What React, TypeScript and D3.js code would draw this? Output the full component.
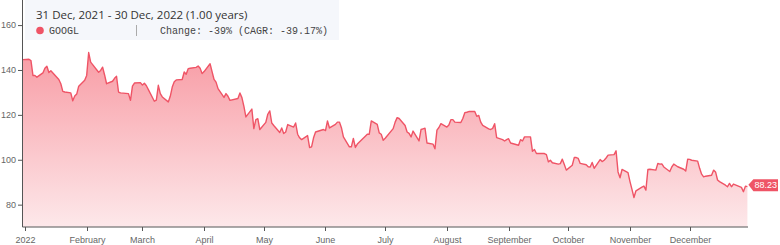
import React from "react";
import * as d3 from "d3";

const dates: string[] = [
  "2021-12-31",
  "2022-01-03","2022-01-04","2022-01-05","2022-01-06","2022-01-07","2022-01-10","2022-01-11","2022-01-12","2022-01-13","2022-01-14",
  "2022-01-18","2022-01-19","2022-01-20","2022-01-21","2022-01-24","2022-01-25","2022-01-26","2022-01-27","2022-01-28","2022-01-31",
  "2022-02-01","2022-02-02","2022-02-03","2022-02-04","2022-02-07","2022-02-08","2022-02-09","2022-02-10","2022-02-11","2022-02-14",
  "2022-02-15","2022-02-16","2022-02-17","2022-02-18","2022-02-22","2022-02-23","2022-02-24","2022-02-25","2022-02-28",
  "2022-03-01","2022-03-02","2022-03-03","2022-03-04","2022-03-07","2022-03-08","2022-03-09","2022-03-10","2022-03-11","2022-03-14",
  "2022-03-15","2022-03-16","2022-03-17","2022-03-18","2022-03-21","2022-03-22","2022-03-23","2022-03-24","2022-03-25","2022-03-28",
  "2022-03-29","2022-03-30","2022-03-31",
  "2022-04-01","2022-04-04","2022-04-05","2022-04-06","2022-04-07","2022-04-08","2022-04-11","2022-04-12","2022-04-13","2022-04-14",
  "2022-04-18","2022-04-19","2022-04-20","2022-04-21","2022-04-22","2022-04-25","2022-04-26","2022-04-27","2022-04-28","2022-04-29",
  "2022-05-02","2022-05-03","2022-05-04","2022-05-05","2022-05-06","2022-05-09","2022-05-10","2022-05-11","2022-05-12","2022-05-13",
  "2022-05-16","2022-05-17","2022-05-18","2022-05-19","2022-05-20","2022-05-23","2022-05-24","2022-05-25","2022-05-26","2022-05-27",
  "2022-05-31",
  "2022-06-01","2022-06-02","2022-06-03","2022-06-06","2022-06-07","2022-06-08","2022-06-09","2022-06-10","2022-06-13","2022-06-14",
  "2022-06-15","2022-06-16","2022-06-17","2022-06-21","2022-06-22","2022-06-23","2022-06-24","2022-06-27","2022-06-28","2022-06-29",
  "2022-06-30",
  "2022-07-01","2022-07-05","2022-07-06","2022-07-07","2022-07-08","2022-07-11","2022-07-12","2022-07-13","2022-07-14","2022-07-15",
  "2022-07-18","2022-07-19","2022-07-20","2022-07-21","2022-07-22","2022-07-25","2022-07-26","2022-07-27","2022-07-28","2022-07-29",
  "2022-08-01","2022-08-02","2022-08-03","2022-08-04","2022-08-05","2022-08-08","2022-08-09","2022-08-10","2022-08-11","2022-08-12",
  "2022-08-15","2022-08-16","2022-08-17","2022-08-18","2022-08-19","2022-08-22","2022-08-23","2022-08-24","2022-08-25","2022-08-26",
  "2022-08-29","2022-08-30","2022-08-31",
  "2022-09-01","2022-09-02","2022-09-06","2022-09-07","2022-09-08","2022-09-09","2022-09-12","2022-09-13","2022-09-14","2022-09-15",
  "2022-09-16","2022-09-19","2022-09-20","2022-09-21","2022-09-22","2022-09-23","2022-09-26","2022-09-27","2022-09-28","2022-09-29",
  "2022-09-30",
  "2022-10-03","2022-10-04","2022-10-05","2022-10-06","2022-10-07","2022-10-10","2022-10-11","2022-10-12","2022-10-13","2022-10-14",
  "2022-10-17","2022-10-18","2022-10-19","2022-10-20","2022-10-21","2022-10-24","2022-10-25","2022-10-26","2022-10-27","2022-10-28",
  "2022-10-31",
  "2022-11-01","2022-11-02","2022-11-03","2022-11-04","2022-11-07","2022-11-08","2022-11-09","2022-11-10","2022-11-11","2022-11-14",
  "2022-11-15","2022-11-16","2022-11-17","2022-11-18","2022-11-21","2022-11-22","2022-11-23","2022-11-25","2022-11-28","2022-11-29",
  "2022-11-30",
  "2022-12-01","2022-12-02","2022-12-05","2022-12-06","2022-12-07","2022-12-08","2022-12-09","2022-12-12","2022-12-13","2022-12-14",
  "2022-12-15","2022-12-16","2022-12-19","2022-12-20","2022-12-21","2022-12-22","2022-12-23","2022-12-27","2022-12-28","2022-12-29",
  "2022-12-30",
];

const closes: number[] = [
  144.85,
  144.99,144.4,137.78,137.75,137.02,138.92,141.0,141.92,139.07,139.9,
  136.0,134.1,130.7,130.4,130.0,126.5,128.6,129.5,133.0,135.6,
  137.8,148.0,143.7,142.6,139.2,140.0,141.5,138.0,134.1,135.2,
  136.5,137.4,130.4,130.0,129.7,126.7,133.0,134.4,134.6,
  133.5,134.3,133.2,131.5,126.3,126.8,133.4,129.7,128.2,126.0,
  128.5,132.6,135.0,135.8,136.0,139.3,138.3,140.8,141.0,141.4,
  142.0,141.0,138.6,
  139.5,143.0,139.5,136.0,134.8,131.9,128.0,129.7,128.5,126.7,
  127.5,130.0,127.9,124.0,119.3,122.8,114.1,118.1,118.5,113.7,
  116.9,120.5,122.0,116.6,115.5,112.4,114.4,111.9,112.6,115.9,
  114.8,116.6,111.6,110.0,109.2,111.0,105.7,106.0,110.0,112.6,
  113.7,
  113.2,117.5,114.4,116.0,117.0,117.0,114.5,110.4,106.0,106.0,
  109.7,105.7,107.2,110.7,111.6,111.6,117.5,116.0,112.2,111.6,
  108.9,
  109.8,114.1,117.0,119.0,118.6,115.5,112.6,112.0,110.4,113.0,
  108.6,113.7,114.0,114.3,107.7,107.2,105.1,113.4,114.6,116.3,
  114.8,115.7,118.1,118.1,117.0,116.8,118.6,121.2,121.4,121.7,
  121.7,119.6,120.0,117.0,115.5,114.0,113.7,114.2,116.3,110.1,
  109.2,108.6,109.2,
  109.6,107.7,106.7,109.2,108.6,110.4,110.4,104.0,104.8,103.0,
  103.0,103.0,102.5,99.3,100.0,98.9,98.3,98.5,100.5,98.1,
  95.6,
  97.8,101.2,101.2,100.8,98.6,98.0,97.1,97.0,99.0,96.4,
  100.3,99.4,100.0,101.0,102.3,102.5,104.2,94.8,92.2,95.9,
  94.5,
  90.5,87.0,83.4,86.4,88.0,88.5,86.7,95.9,96.0,95.6,
  98.6,98.3,98.4,97.0,95.0,97.0,98.3,97.1,96.0,95.2,
  100.5,
  100.4,100.0,99.6,96.4,93.8,92.6,92.9,93.3,95.6,94.8,
  91.2,90.5,88.9,88.2,89.7,88.2,89.4,87.9,86.0,88.45,
  88.23,
];

const yTicks: number[] = [80, 100, 120, 140, 160];
const monthLabels: string[] = ["2022", "February", "March", "April", "May", "June", "July", "August", "September", "October", "November", "December"];
const ticker = "GOOGL";
const titleText = "31 Dec, 2021 - 30 Dec, 2022 (1.00 years)";
const changeText = "Change: -39% (CAGR: -39.17%)";

const W = 780;
const H = 245;
const RED = "#ef5466";

export default function App() {
  const parse = d3.timeParse("%Y-%m-%d");
  const data = dates.map((d, i) => ({ date: parse(d) as Date, value: closes[i] }));

  const x = d3
    .scaleTime()
    .domain([parse("2021-12-31") as Date, parse("2022-12-30") as Date])
    .range([23, 747.4]);
  const y = d3.scaleLinear().domain([70.4, 171.4]).range([226.7, 0]);

  const line = d3
    .line<{ date: Date; value: number }>()
    .x((d) => x(d.date))
    .y((d) => y(d.value));
  const area = d3
    .area<{ date: Date; value: number }>()
    .x((d) => x(d.date))
    .y0(y(70.4))
    .y1((d) => y(d.value));

  const monthTicks = d3.range(12).map((m) => new Date(2022, m, 1));
  const last = data[data.length - 1];
  const lx = x(last.date);
  const ly = y(last.value);

  const mono = "'Liberation Mono', 'DejaVu Sans Mono', monospace";
  const sans = "'Liberation Sans', Arial, sans-serif";

  return (
    <div style={{ position: "fixed", left: 0, top: 0, width: W, height: H, background: "#fff" }}>
      <svg width={W} height={H} style={{ display: "block" }}>
        <defs>
          <linearGradient id="fillGrad" x1="0" y1="0" x2="0" y2="1">
            <stop offset="0%" stopColor="#f89ca5" />
            <stop offset="100%" stopColor="#fde8ea" />
          </linearGradient>
        </defs>
        <path d={area(data) || ""} fill="url(#fillGrad)" />
        <path d={line(data) || ""} fill="none" stroke={RED} strokeWidth={1.4} strokeLinejoin="round" />

        {/* y axis */}
        <line x1={22.5} x2={22.5} y1={0} y2={227} stroke="#555" strokeWidth={1} />
        {yTicks.map((t) => (
          <g key={t} transform={`translate(0,${y(t)})`}>
            <line x1={18} x2={22.5} stroke="#555" strokeWidth={1} />
            <text x={16} dy="0.32em" textAnchor="end" fontSize={9} fill="#666" fontFamily={sans}>
              {t}
            </text>
          </g>
        ))}

        {/* x axis */}
        <line x1={22.5} x2={748} y1={227} y2={227} stroke="#555" strokeWidth={1} />
        {monthTicks.map((d, i) => (
          <g key={i} transform={`translate(${Math.round(x(d)) + 0.5},227)`}>
            <line y1={0} y2={4} stroke="#555" strokeWidth={1} />
            <text y={13} dy="0.32em" textAnchor="middle" fontSize={9} fill="#666" fontFamily={sans}>
              {monthLabels[i]}
            </text>
          </g>
        ))}

        {/* last value label */}
        <path
          d={`M${lx + 1},${ly - 2} L${lx + 6},${ly - 7.5} L${W - 2},${ly - 7.5} L${W - 2},${ly + 4.5} L${lx + 6},${ly + 4.5} Z`}
          fill={RED}
        />
        <text x={(lx + 6 + W - 2) / 2} y={ly - 1.5} dy="0.32em" textAnchor="middle" fontSize={9} fill="#fff" fontFamily={sans}>
          {last.value.toFixed(2)}
        </text>

        {/* legend box */}
        <rect x={25} y={0} width={314} height={40} fill="#f4f7fb" opacity={0.95} />
        <text x={36} y={19} fontSize={11.5} fill="#333" fontFamily="'Open Sans', Inter, sans-serif">
          {titleText}
        </text>
        <circle cx={40} cy={30.5} r={3.8} fill={RED} />
        <text x={49} y={34} fontSize={10} fill="#444" fontFamily={mono}>
          {ticker}
        </text>
        <line x1={136.5} x2={136.5} y1={25} y2={36} stroke="#aaa" strokeWidth={1} />
        <text x={160} y={34} fontSize={10} fill="#444" fontFamily={mono}>
          {changeText}
        </text>
      </svg>
    </div>
  );
}
